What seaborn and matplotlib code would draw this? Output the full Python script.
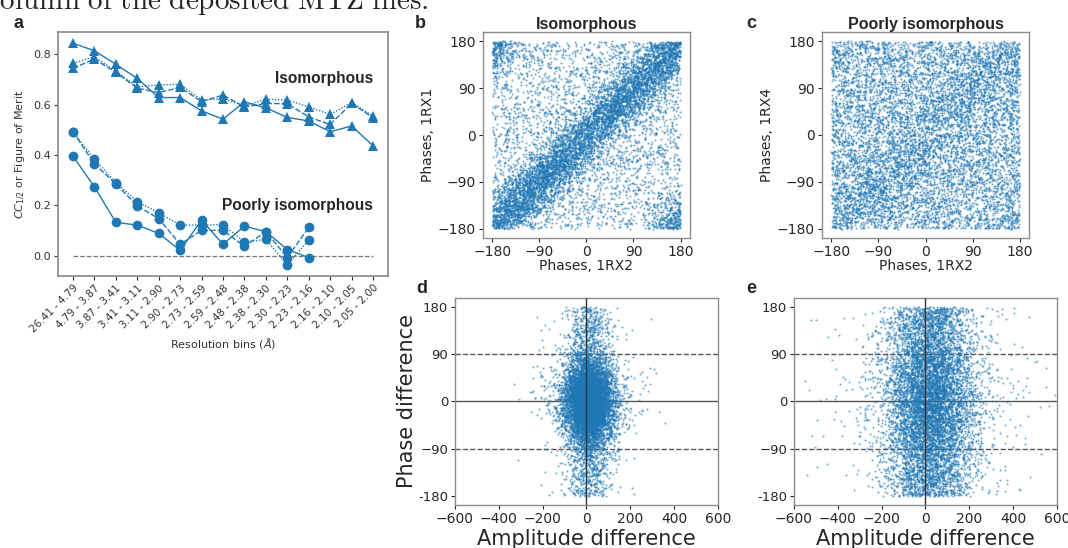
import numpy as np
import pandas as pd
import matplotlib
matplotlib.use('Agg')
import matplotlib.pyplot as plt
import seaborn as sns

# ---- panel a: CC1/2 / figure of merit per resolution bin ----
bins = ['26.41 - 4.79', '4.79 - 3.87', '3.87 - 3.41', '3.41 - 3.11', '3.11 - 2.90',
        '2.90 - 2.73', '2.73 - 2.59', '2.59 - 2.48', '2.48 - 2.38', '2.38 - 2.30',
        '2.30 - 2.23', '2.23 - 2.16', '2.16 - 2.10', '2.10 - 2.05', '2.05 - 2.00']

iso_solid = [0.844, 0.814, 0.760, 0.704, 0.628, 0.628, 0.575, 0.542, 0.611, 0.587,
             0.549, 0.535, 0.492, 0.515, 0.437]
iso_dashed = [0.744, 0.781, 0.728, 0.665, 0.648, 0.668, 0.612, 0.638, 0.591, 0.604,
              0.604, 0.551, 0.521, 0.605, 0.548]
iso_dotted = [0.764, 0.790, 0.733, 0.671, 0.678, 0.680, 0.618, 0.624, 0.594, 0.622,
              0.618, 0.591, 0.561, 0.608, 0.555]

poor_solid = [0.395, 0.273, 0.132, 0.121, 0.088, 0.021, 0.141, 0.045, 0.117, 0.095,
              0.024, -0.008]
poor_dashed = [0.492, 0.364, 0.285, 0.197, 0.147, 0.045, 0.100, 0.100, 0.037, 0.095,
               -0.008, 0.112]
poor_dotted = [0.492, 0.383, 0.290, 0.214, 0.170, 0.121, 0.121, 0.123, 0.054, 0.064,
               -0.037, 0.061]

# ---- panels b-e: scatter clouds, density model ----
# (too many points to read one by one: counts / spreads)
n_b, corr_b, sd_b = 9000, 0.66, 32.0
n_c, corr_c, sd_c = 8500, 0.15, 40.0
n_d, corr_d, sd_d_phase, sd_d_amp = 9000, 0.80, 40.0, 55.0
n_e, corr_e, sd_e_phase, sd_e_amp = 8000, 0.30, 60.0, 100.0

phase_ticks = [-180, -90, 0, 90, 180]
amp_ticks = [-600, -400, -200, 0, 200, 400, 600]

blue = '#1f77b4'


def wrap(a):
    return (a + 180.0) % 360.0 - 180.0


def phase_pairs(rng, n, frac, sd):
    x = rng.uniform(-180, 180, n)
    y = rng.uniform(-180, 180, n)
    m = rng.random(n) < frac
    y[m] = wrap(x[m] + rng.normal(0, sd, m.sum()))
    return pd.DataFrame({'x': x, 'y': y})


def diff_pairs(rng, n, frac, sd_phase, sd_amp, mean_amp=10.0):
    ph = rng.uniform(-180, 180, n)
    m = rng.random(n) < frac
    ph[m] = wrap(rng.normal(0, sd_phase, m.sum()))
    amp = rng.normal(mean_amp, sd_amp, n)
    tail = rng.random(n) < 0.08
    amp[tail] = rng.normal(mean_amp, sd_amp * 2.2, tail.sum())
    return pd.DataFrame({'x': amp, 'y': ph})


rng = np.random.default_rng(7)
df_b = phase_pairs(rng, n_b, corr_b, sd_b)
df_c = phase_pairs(rng, n_c, corr_c, sd_c)
df_d = diff_pairs(rng, n_d, corr_d, sd_d_phase, sd_d_amp)
df_e = diff_pairs(rng, n_e, corr_e, sd_e_phase, sd_e_amp, mean_amp=20.0)

sns.set_theme(style='white')
plt.rcParams['font.family'] = ['DejaVu Sans']
plt.rcParams['axes.edgecolor'] = '#8c8c8c'
plt.rcParams['xtick.bottom'] = True
plt.rcParams['ytick.left'] = True

fig = plt.figure(figsize=(10.68, 5.48), dpi=100)

lab_font = ['Liberation Sans', 'DejaVu Sans']

# ---------------- panel a ----------------
ax_a = fig.add_axes([0.0543, 0.4964, 0.309, 0.445])
rows = []
for name, vals, grp in [('solid', iso_solid, 'iso'), ('dashed', iso_dashed, 'iso'),
                        ('dotted', iso_dotted, 'iso'), ('solid', poor_solid, 'poor'),
                        ('dashed', poor_dashed, 'poor'), ('dotted', poor_dotted, 'poor')]:
    for i, v in enumerate(vals):
        rows.append({'bin': i, 'value': v, 'line': name, 'group': grp})
df_a = pd.DataFrame(rows)
dash_map = {'solid': '', 'dashed': (4, 1.5), 'dotted': (1, 1.2)}
for grp, mk in [('iso', '^'), ('poor', 'o')]:
    sub = df_a[df_a['group'] == grp]
    sns.lineplot(data=sub, x='bin', y='value', style='line', dashes=dash_map,
                 markers={'solid': mk, 'dashed': mk, 'dotted': mk}, color=blue,
                 markersize=7, markeredgewidth=0, linewidth=1.0, legend=False,
                 estimator=None, sort=False, ax=ax_a)
ax_a.plot([0, len(bins) - 1], [0, 0], ls='--', color='#777777', lw=0.9, zorder=0)
ax_a.set_xticks(range(len(bins)))
ax_a.set_xticklabels(bins, rotation=45, ha='right', rotation_mode='anchor', fontsize=7.5)
ax_a.set_yticks([0.0, 0.2, 0.4, 0.6, 0.8])
ax_a.set_yticklabels(['0.0', '0.2', '0.4', '0.6', '0.8'], fontsize=8)
ax_a.tick_params(length=3, width=0.8, colors='#333333', pad=2)
ax_a.set_xlabel(r'Resolution bins ($\AA$)', fontsize=8, color='#333333', labelpad=1)
ax_a.set_ylabel(r'$CC_{1/2}$ or Figure of Merit', fontsize=8, color='#333333', labelpad=4)
ax_a.text(0.955, 0.81, 'Isomorphous', transform=ax_a.transAxes, fontsize=11.2,
          fontweight='bold', family=lab_font, ha='right', va='center')
ax_a.text(0.955, 0.29, 'Poorly isomorphous', transform=ax_a.transAxes, fontsize=11.2,
          fontweight='bold', family=lab_font, ha='right', va='center')


def phase_axes(ax, df, title, ylab):
    sns.scatterplot(data=df, x='x', y='y', s=2.2, color=blue, alpha=0.6, linewidth=0,
                    ax=ax, rasterized=True)
    ax.set_xticks(phase_ticks)
    ax.set_yticks(phase_ticks)
    ax.set_xticklabels(['\u2212180', '\u221290', '0', '90', '180'])
    ax.set_yticklabels(['\u2212180', '\u221290', '0', '90', '180'])
    ax.tick_params(labelsize=10, length=3, width=0.8, pad=2)
    ax.set_xlabel('Phases, 1RX2', fontsize=10, labelpad=0)
    ax.set_ylabel(ylab, fontsize=10, labelpad=2)
    ax.set_title(title, fontsize=11.5, fontweight='bold', family=lab_font, pad=2)
    for s in ax.spines.values():
        s.set_linewidth(1.0)


ax_b = fig.add_axes([0.4522, 0.5657, 0.1938, 0.3759])
phase_axes(ax_b, df_b, 'Isomorphous', 'Phases, 1RX1')
ax_c = fig.add_axes([0.7697, 0.5657, 0.1938, 0.3759])
phase_axes(ax_c, df_c, 'Poorly isomorphous', 'Phases, 1RX4')


def diff_axes(ax, df, ylab):
    for yv in [90, -90]:
        ax.axhline(yv, ls='--', color='#555555', lw=1.0, zorder=0)
    ax.axhline(0, color='#555555', lw=1.0, zorder=0)
    ax.axvline(0, color='#333333', lw=1.0, zorder=3)
    sns.scatterplot(data=df, x='x', y='y', s=2.2, color=blue, alpha=0.6, linewidth=0,
                    ax=ax, rasterized=True)
    ax.set_xlim(-600, 600)
    ax.set_ylim(-197, 197)
    ax.set_xticks(amp_ticks)
    ax.set_xticklabels(['\u2212600', '\u2212400', '\u2212200', '0', '200', '400', '600'])
    ax.set_yticks(phase_ticks)
    ax.set_yticklabels(['-180', '\u221290', '0', '90', '180'])
    ax.tick_params(axis='x', labelsize=10, length=3, width=0.8, pad=2)
    ax.tick_params(axis='y', labelsize=9.5, length=3, width=0.8, pad=2)
    ax.set_xlabel('Amplitude difference', fontsize=15, labelpad=2)
    ax.set_ylabel(ylab, fontsize=15, labelpad=1)
    for s in ax.spines.values():
        s.set_linewidth(1.0)


ax_d = fig.add_axes([0.426, 0.0785, 0.2463, 0.3777])
diff_axes(ax_d, df_d, 'Phase difference')
ax_e = fig.add_axes([0.7434, 0.0785, 0.2463, 0.3777])
diff_axes(ax_e, df_e, '')

# panel letters (baseline positions in pixels)
for letter, x, y in [('a', 13, 28), ('b', 415, 28), ('c', 746, 28),
                     ('d', 416, 293), ('e', 746, 293)]:
    fig.text(x / 1068, 1 - y / 548, letter, fontsize=13, fontweight='bold',
             family=lab_font, va='baseline', ha='left')

# clipped line of the surrounding page text
fig.text(-0.012, 1 - 9 / 548, r'$\mathrm{column\ of\ the\ deposited\ MTZ\ files.}$',
         fontsize=21, math_fontfamily='cm', va='baseline', ha='left')

fig.savefig('out.png', dpi=100)
